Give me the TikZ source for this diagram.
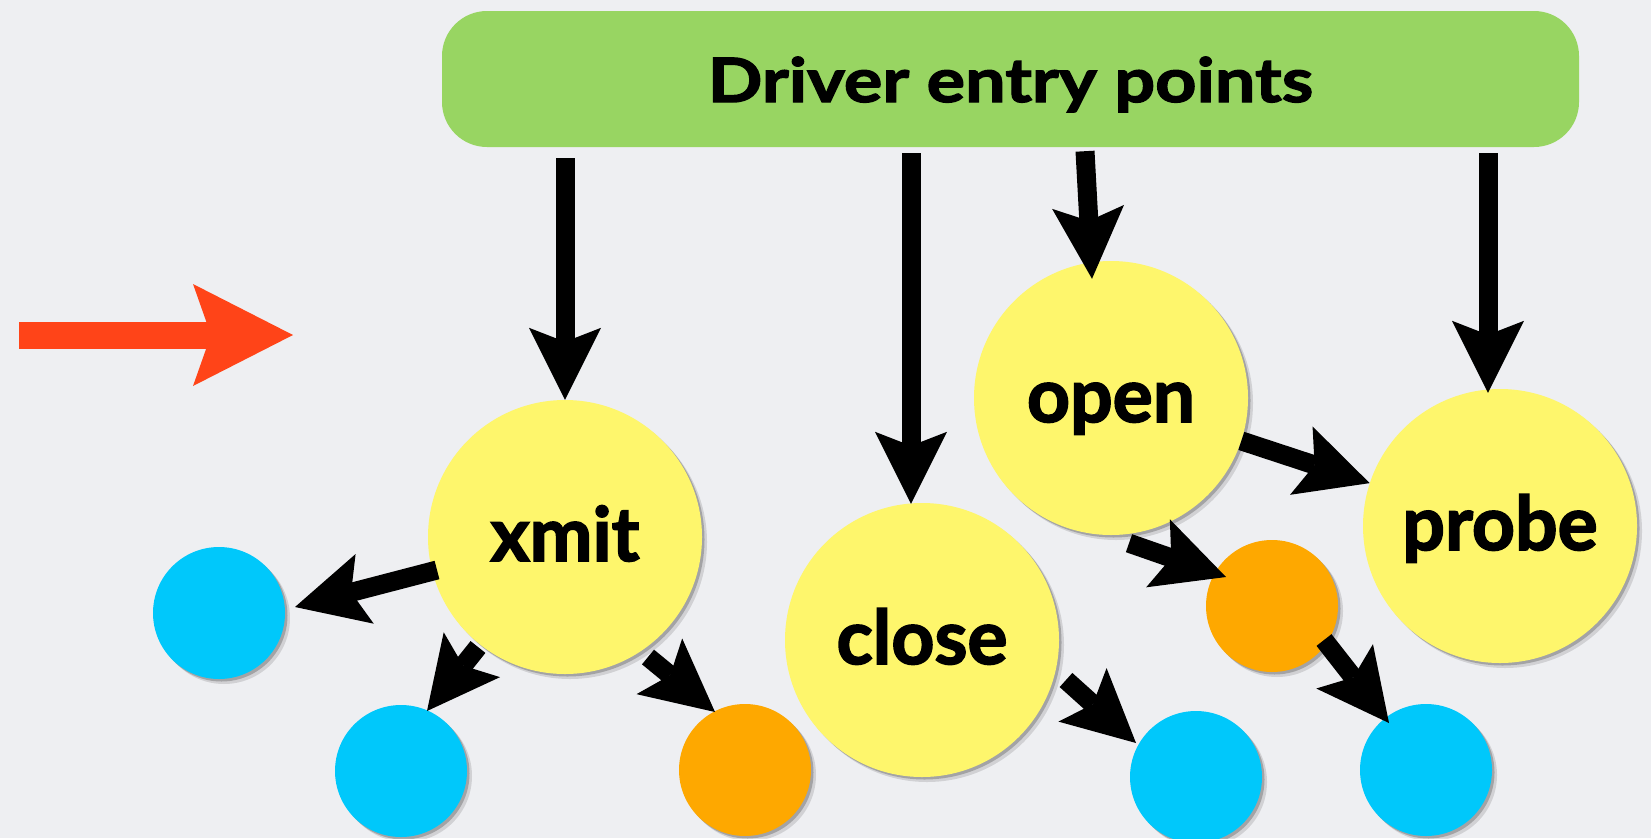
\documentclass[tikz,border=0pt]{standalone}
\usepackage{fontspec}
\setmainfont{Lato}
\newfontfamily\titlefont[FakeStretch=1.18,FakeBold=2.2]{Lato}
\newfontfamily\labelfont[FakeBold=2.2]{Lato}
\usetikzlibrary{arrows.meta,shadows,calc}
\definecolor{bgc}{RGB}{238,239,242}
\definecolor{cgreen}{RGB}{152,213,98}
\definecolor{cyel}{RGB}{254,246,108}
\definecolor{cblue}{RGB}{0,200,251}
\definecolor{corange}{RGB}{254,168,0}
\definecolor{cred}{RGB}{255,68,24}
\tikzset{
  softshadow/.style={
    general shadow={shadow xshift=5pt,shadow yshift=-5pt,opacity=0.12,fill=black},
    general shadow={shadow xshift=2.5pt,shadow yshift=-2.5pt,opacity=0.22,fill=black}},
  big/.style={circle,fill=cyel,minimum size=274pt,inner sep=0pt,softshadow,
    font=\labelfont\fontsize{75}{75}\selectfont\bfseries,text height=48pt,text depth=0pt},
  blueball/.style={circle,fill=cblue,minimum size=132pt,inner sep=0pt,softshadow},
  orangeball/.style={circle,fill=corange,minimum size=132pt,inner sep=0pt,softshadow},
  entrybox/.style={rectangle,rounded corners=45pt,fill=cgreen,minimum width=1137pt,minimum height=136pt,
    inner sep=0pt,font=\titlefont\fontsize{61}{61}\selectfont\bfseries,text height=46pt,text depth=0pt},
  conn/.style={draw=black,line width=19pt,-{Stealth[length=72pt,width=72pt,inset=14pt,line width=0pt]}},
  redarrow/.style={draw=cred,line width=27pt,-{Stealth[length=100pt,width=102pt,inset=18pt,line width=0pt]},color=cred},
}
\begin{document}
\begin{tikzpicture}[x=1pt,y=-1pt]
\fill[bgc] (0,0) rectangle (1651,838);
\useasboundingbox (0,0) rectangle (1651,838);

\node[entrybox] (box) at (1010.5,79) {Driver entry points};

\node[big] (xmit) at (565,537) {xmit};
\node[big] (close) at (922,640) {close};
\node[big] (open) at (1111,398) {open};
\node[big] (probe) at (1500,526) {probe};

\node[blueball] (blue1) at (219,613) {};
\node[blueball] (blue2) at (401,771) {};
\node[orangeball] (orange1) at (745,770) {};
\node[blueball] (blue3) at (1196,777) {};
\node[blueball] (blue4) at (1426,770) {};
\node[orangeball] (orange2) at (1272,606) {};

\coordinate (redS) at (19,335);
\coordinate (redE) at (293,335);
\draw[redarrow] (redS) -- (redE);

\draw[conn] ($(box.south -| xmit.north)+(0,11)$) -- (xmit);
\draw[conn] ($(box.south -| close.north)+(-11,6)$) -- ($(close.north)+(-11,1)$);
\draw[conn] ($(box.south -| open.north)+(-26,4)$) -- ($(open.north)+(-19,18)$);
\draw[conn] ($(box.south -| probe.north)+(-12,6)$) -- ($(probe.north)+(-12,4)$);
\draw[conn] (open) -- (probe);
\draw[conn] ($(open.south)+(18,8)$) -- ($(orange2)+(-46,-29)$);
\draw[conn] ($(xmit)+(-128,33)$) -- ($(blue1)+(76,-6)$);
\draw[conn] ($(xmit)+(-87,110)$) -- ($(blue2)+(26,-60)$);
\draw[conn] ($(xmit)+(83,120)$) -- ($(orange1)+(-30,-58)$);
\draw[conn] ($(close)+(144,40)$) -- ($(blue3)+(-60,-34)$);
\draw[conn] ($(orange2)+(52,34)$) -- ($(blue4)+(-37,-47)$);
\end{tikzpicture}
\end{document}
